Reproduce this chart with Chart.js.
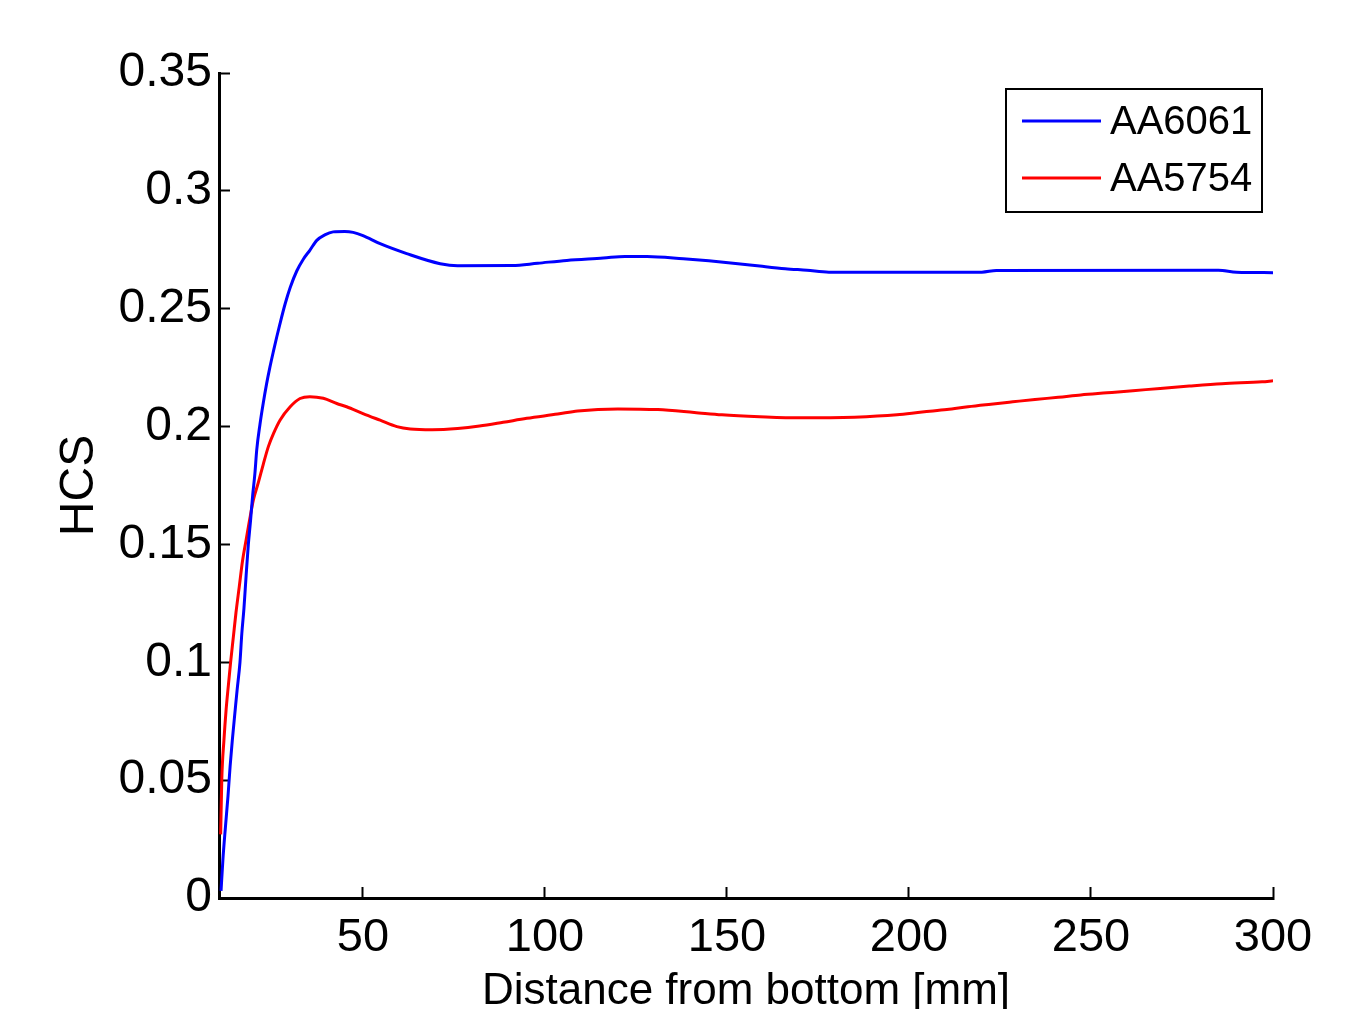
<!DOCTYPE html>
<html>
<head>
<meta charset="utf-8">
<script src="https://cdn.jsdelivr.net/npm/chart.js@4.4.1/dist/chart.umd.min.js"></script>
<style>
  html, body { margin: 0; padding: 0; background: #fff; }
  #c { display: block; }
</style>
</head>
<body>
<canvas id="c" width="1372" height="1009"></canvas>
<script>
// ---- data ----
const seriesNames = ['AA6061', 'AA5754'];
const seriesColors = ['#0000ff', '#ff0000'];

const xAA6061 = [11, 11.5, 12.2, 12.9, 13.5, 14.1, 14.9, 15.4, 16.2, 16.7, 17.3, 17.9, 18.5, 19.1, 19.7, 20.3, 20.8, 21.7, 22.6, 23.5, 24.4, 25.4, 26.3, 27.2, 28.6, 30, 31.8, 33.6, 35.4, 37.3, 39.5, 41.8, 45, 47.3, 50, 54.7, 62, 71.2, 76, 91, 98, 106, 116, 122, 128, 138, 145, 153, 159, 166, 172, 178, 220, 224, 285, 290, 300];
const yAA6061 = [0.003, 0.016, 0.030, 0.043, 0.056, 0.067, 0.080, 0.088, 0.100, 0.112, 0.123, 0.137, 0.150, 0.160, 0.171, 0.180, 0.190, 0.201, 0.210, 0.218, 0.225, 0.232, 0.238, 0.2437, 0.252, 0.259, 0.266, 0.271, 0.2748, 0.279, 0.2813, 0.2826, 0.2828, 0.2824, 0.281, 0.2776, 0.2734, 0.2691, 0.2682, 0.2683, 0.2693, 0.2705, 0.2715, 0.2722, 0.2722, 0.2712, 0.2703, 0.2691, 0.2681, 0.2670, 0.2663, 0.2655, 0.2655, 0.2662, 0.2663, 0.2655, 0.2653];

const xAA5754 = [10.9, 11.2, 11.8, 12.4, 13.0, 13.6, 14.4, 15.1, 16.0, 16.9, 17.9, 18.8, 19.9, 21.2, 22.6, 24, 25.4, 27.2, 30, 32.7, 35.4, 39.1, 42.8, 45.5, 50, 54.7, 59.3, 63, 69, 76, 82, 88.5, 95, 103.5, 109, 120, 131, 141, 148.6, 159, 170, 185, 196.7, 203.6, 210.4, 216.2, 222.5, 228.5, 234.6, 241, 247.2, 254.4, 261.5, 269, 277, 286, 297, 300];
const yAA5754 = [0.027, 0.050, 0.067, 0.080, 0.090, 0.0995, 0.111, 0.121, 0.132, 0.143, 0.152, 0.160, 0.169, 0.176, 0.184, 0.1915, 0.197, 0.2027, 0.2084, 0.2119, 0.2127, 0.2120, 0.2098, 0.2084, 0.2055, 0.2027, 0.2000, 0.1990, 0.1987, 0.1992, 0.2002, 0.2018, 0.2035, 0.2053, 0.2066, 0.2075, 0.2072, 0.2060, 0.2050, 0.2042, 0.2037, 0.2040, 0.2050, 0.2062, 0.2072, 0.2084, 0.2095, 0.2105, 0.2115, 0.2124, 0.2134, 0.2143, 0.2152, 0.2162, 0.2172, 0.2182, 0.2190, 0.2194];

const xTickValues = [50, 100, 150, 200, 250, 300];
const yTickValues = [0, 0.05, 0.1, 0.15, 0.2, 0.25, 0.3, 0.35];
const yTickLabels = ['0', '0.05', '0.1', '0.15', '0.2', '0.25', '0.3', '0.35'];
const xAxisTitle = 'Distance from bottom [mm]';
const yAxisTitle = 'HCS';
const xMin = 10.44, xMax = 300, yMin = 0, yMax = 0.35;

// ---- build ----
const toPts = (xs, ys) => xs.map((x, i) => ({ x: x, y: ys[i] }));
const REG = '"Liberation Sans", Arial, sans-serif';

const legendBox = {
  id: 'legendBox',
  afterDraw(chart) {
    const ctx = chart.ctx, ca = chart.chartArea;
    const w = 256, h = 123;
    const left = ca.right - 11 - w, top = ca.top + 16;
    ctx.save();
    ctx.fillStyle = '#fff';
    ctx.fillRect(left, top, w, h);
    ctx.strokeStyle = '#000';
    ctx.lineWidth = 2;
    ctx.strokeRect(left, top, w, h);
    ctx.font = '40px ' + REG;
    ctx.textBaseline = 'middle';
    ctx.textAlign = 'left';
    chart.data.datasets.forEach((ds, i) => {
      const y = top + 32 + i * 57;
      ctx.strokeStyle = ds.borderColor;
      ctx.lineWidth = 3;
      ctx.beginPath();
      ctx.moveTo(left + 16, y);
      ctx.lineTo(left + 95, y);
      ctx.stroke();
      ctx.fillStyle = '#000';
      ctx.fillText(ds.label, left + 104, y + 2);
    });
    ctx.restore();
  }
};

new Chart(document.getElementById('c'), {
  type: 'line',
  data: {
    datasets: [
      { label: seriesNames[0], data: toPts(xAA6061, yAA6061), borderColor: seriesColors[0], borderWidth: 3, pointRadius: 0, cubicInterpolationMode: 'monotone', fill: false },
      { label: seriesNames[1], data: toPts(xAA5754, yAA5754), borderColor: seriesColors[1], borderWidth: 3, pointRadius: 0, cubicInterpolationMode: 'monotone', fill: false }
    ]
  },
  options: {
    responsive: false,
    animation: false,
    events: [],
    layout: { padding: { left: 0, right: 99, top: 73, bottom: 0 } },
    plugins: { legend: { display: false }, tooltip: { enabled: false } },
    scales: {
      x: {
        type: 'linear', min: xMin, max: xMax,
        afterBuildTicks: s => { s.ticks = xTickValues.map(v => ({ value: v })); },
        afterFit: s => { s.height = 111; },
        border: { display: true, color: '#000', width: 3 },
        grid: { display: true, drawOnChartArea: false, drawTicks: true, tickLength: -11, tickWidth: 2, tickColor: '#000' },
        ticks: { color: '#000', padding: 23, maxRotation: 0, autoSkip: false, font: { family: REG, size: 47 }, callback: v => String(v) },
        title: { display: true, text: xAxisTitle, color: '#000', font: { family: REG, size: 44, lineHeight: 0.8 }, padding: { top: 0, bottom: 0 } }
      },
      y: {
        type: 'linear', min: yMin, max: yMax,
        afterBuildTicks: s => { s.ticks = yTickValues.map(v => ({ value: v })); },
        afterFit: s => { s.width = 219; },
        border: { display: true, color: '#000', width: 3 },
        grid: { display: true, drawOnChartArea: false, drawTicks: true, tickLength: -11, tickWidth: 2, tickColor: '#000' },
        ticks: { color: '#000', padding: 18, autoSkip: false, font: { family: REG, size: 48 },
          callback: (v) => { const i = yTickValues.findIndex(t => Math.abs(t - v) < 1e-9); return i >= 0 ? yTickLabels[i] : ''; } },
        title: { display: true, text: yAxisTitle, color: '#000', font: { family: REG, size: 48, lineHeight: 1.2 }, padding: { top: 51, bottom: 0 } }
      }
    }
  },
  plugins: [legendBox]
});
</script>
</body>
</html>
